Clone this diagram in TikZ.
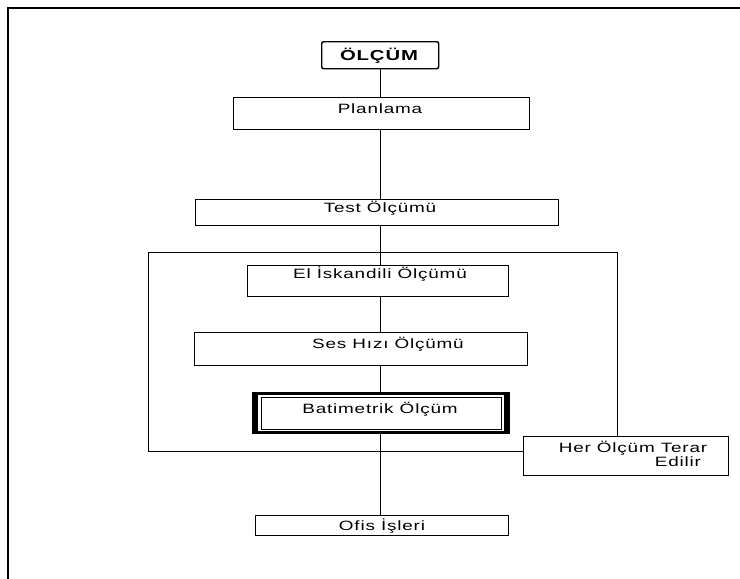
\documentclass[tikz,border=0pt]{standalone}
\usepackage{fontspec}
\setmainfont{Liberation Sans}[FakeStretch=1.4,LetterSpace=6]
\begin{document}
\begin{tikzpicture}[x=1pt,y=-1pt,
  box/.style={draw=black,line width=1pt,fill=white,rectangle,inner sep=0pt,anchor=north west},
  lbl/.style={anchor=base,inner sep=0pt,font=\fontsize{13.5}{15}\selectfont},
  link/.style={draw=black,line width=1pt}]
\useasboundingbox (0,0) rectangle (740,579);
\clip (0,0) rectangle (740,579);
\fill[white] (0,0) rectangle (740,579);
% page frame, open to the right and bottom
\draw[line width=1.3pt] (8,600) -- (8,8) -- (760,8);

% repeat loop frame
\node[box,fill=none,minimum width=469pt,minimum height=199pt] (loop) at (148,252) {};

% main steps
\node[box,rounded corners=2pt,line width=1.4pt,minimum width=117pt,minimum height=27pt] (olcum) at (321,41) {};
\node[anchor=base,inner sep=0pt,font=\fontsize{14.5}{16}\selectfont\bfseries] at (379,60) {ÖLÇÜM};

\node[box,minimum width=296pt,minimum height=32pt] (plan) at (233,97) {};
\node[box,minimum width=363pt,minimum height=26pt] (test) at (195,199) {};
\node[box,minimum width=261pt,minimum height=31pt] (el) at (247,265) {};
\node[box,minimum width=333pt,minimum height=33pt] (ses) at (194,332) {};
\node[box,draw=none,minimum width=257pt,minimum height=41pt] (bat) at (252,392) {};
\node[box,minimum width=253pt,minimum height=20pt] (ofis) at (255,515) {};

% trunk line through the steps
\draw[link] (olcum.south) -- (olcum.south |- plan.north);
\draw[link] (olcum.south |- plan.south) -- (olcum.south |- test.north);
\draw[link] (olcum.south |- test.south) -- (olcum.south |- el.north);
\draw[link] (olcum.south |- el.south) -- (olcum.south |- ses.north);
\draw[link] (olcum.south |- ses.south) -- (olcum.south |- bat.north);
\draw[link] (olcum.south |- bat.south) -- (olcum.south |- ofis.north);

% double border of the bathymetric step
\fill[black] (bat.north west) rectangle (bat.south east);
\fill[white] ([xshift=6pt,yshift=-3pt]bat.north west) rectangle ([xshift=-6pt,yshift=3pt]bat.south east);
\draw[line width=1pt] ([xshift=9pt,yshift=-5.5pt]bat.north west) rectangle ([xshift=-9pt,yshift=4.5pt]bat.south east);

% step labels
\node[lbl] at (380,113) {Planlama};
\node[lbl] at (380,212) {Test Ölçümü};
\node[lbl] at (380,278) {El İskandili Ölçümü};
\node[lbl] at (388,348) {Ses Hızı Ölçümü};
\node[lbl] at (380,413) {Batimetrik Ölçüm};
\node[lbl] at (382,530) {Ofis İşleri};

% repetition note
\node[box,minimum width=205pt,minimum height=39pt] (her) at (523,436) {};
\node[lbl] at (633,452) {Her Ölçüm Terar};
\node[lbl] at (678,466) {Edilir};
\end{tikzpicture}
\end{document}
